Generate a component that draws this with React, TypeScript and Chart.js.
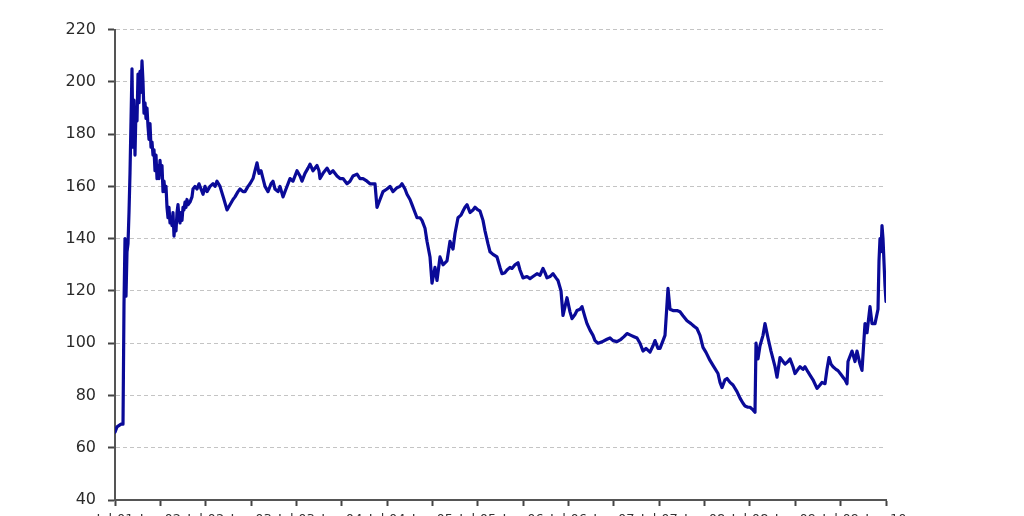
import React, { useEffect, useRef } from "react";
import { Chart, registerables } from "chart.js";

Chart.register(...registerables);

// Trading-day index (0 = first day on the axis) and closing price
const dayIndex = [
  0, 2, 6, 8, 9, 10, 11, 12, 13, 14, 15, 16, 17, 18, 19, 20, 21, 22, 23, 24,
  25, 26, 27, 28, 29, 30, 31, 32, 33, 34, 35, 36, 37, 38, 39, 40, 41, 42, 43, 44,
  45, 46, 47, 48, 49, 50, 51, 52, 53, 54, 55, 56, 57, 58, 59, 60, 61, 62, 63, 64,
  65, 66, 67, 68, 69, 70, 71, 72, 73, 75, 77, 78, 80, 82, 84, 86, 88, 90, 92, 95,
  98, 100, 102, 105, 109, 112, 115, 118, 120, 123, 125, 128, 130, 133, 135, 138, 140, 142, 144, 146,
  148, 150, 153, 156, 158, 160, 163, 165, 168, 171, 175, 178, 182, 185, 187, 190, 193, 195, 198, 202,
  204, 205, 208, 212, 215, 218, 222, 225, 228, 232, 235, 238, 242, 245, 248, 252, 255, 258, 260, 262,
  265, 268, 272, 275, 278, 282, 285, 287, 290, 292, 295, 297, 300, 302, 305, 307, 310, 312, 315, 317,
  320, 322, 325, 328, 332, 335, 338, 340, 343, 346, 348, 350, 352, 355, 358, 360, 363, 365, 368, 370,
  373, 375, 378, 382, 385, 387, 390, 392, 395, 397, 400, 403, 405, 408, 412, 415, 418, 422, 425, 428,
  430, 432, 435, 438, 441, 443, 446, 448, 450, 452, 455, 457, 460, 462, 465, 467, 470, 472, 475, 478,
  480, 483, 487, 492, 495, 498, 502, 506, 509, 512, 516, 519, 522, 525, 528, 531, 535, 538, 540, 543,
  545, 548, 550, 553, 555, 558, 562, 565, 568, 572, 576, 579, 582, 585, 588, 591, 595, 598, 603, 605,
  607, 610, 612, 615, 618, 622, 625, 628, 630, 633, 635, 638, 640, 641, 643, 645, 648, 650, 653, 656,
  658, 660, 662, 665, 668, 670, 673, 675, 678, 680, 683, 685, 688, 690, 693, 695, 698, 702, 705, 707,
  710, 712, 714, 716, 718, 721, 723, 726, 728, 730, 732, 733, 735, 737, 740, 742, 745, 747, 750, 752,
  755, 757, 760, 763, 764, 765, 766, 767, 768, 770, 771,
];

const price = [
  66, 68, 69, 69, 115, 140, 118, 135, 138, 150, 165, 185, 205, 175, 193, 172, 190, 185, 203, 192,
  204, 196, 208, 200, 188, 192, 186, 190, 183, 178, 184, 175, 177, 172, 174, 166, 172, 163, 168, 163,
  170, 165, 168, 158, 162, 158, 160, 152, 148, 152, 146, 148, 145, 150, 141, 146, 143, 150, 153, 148,
  146, 150, 147, 152, 151, 154, 152, 155, 153, 154, 156, 159, 160, 159, 161, 159, 157, 160, 158, 160,
  161, 160, 162, 160, 155, 151, 153, 155, 156, 158, 159, 158, 158, 160, 161, 163, 166, 169, 165, 166,
  163, 160, 158, 161, 162, 159, 158, 160, 156, 159, 163, 162, 166, 164, 162, 165, 167, 168.5, 166, 168,
  166, 163, 165, 167, 165, 166, 164, 163, 163, 161, 162, 164, 164.7, 163, 163, 162, 161, 161, 161, 152,
  155, 158, 159, 160, 158, 159.5, 160, 161, 159, 157, 155, 153, 150, 148, 148, 147, 144, 139, 133, 123,
  129, 124, 133, 130, 131.5, 139, 136, 142, 148, 149, 150.6, 152, 153, 150, 151, 152, 151, 150.6, 147, 143,
  138, 135, 134, 133, 129, 126.6, 127, 128, 129, 128.6, 130, 130.8, 128, 125, 125.5, 124.7, 125.5, 126.6, 126, 128.6,
  127, 125, 125.5, 126.6, 125, 124, 120, 110.6, 114, 117.4, 112, 109.4, 111, 112.5, 113, 114, 110, 107.5, 105, 103,
  101, 100, 100.5, 101.5, 102, 101, 100.6, 101.5, 102.5, 103.7, 103, 102.5, 102, 100, 97, 98, 96.6, 99, 101, 98,
  98, 101, 103, 121, 113, 112.5, 112.5, 112, 110.5, 108.6, 107.5, 106.5, 105.6, 103, 98.4, 96.5, 93.4, 91.5, 88.4, 85,
  83, 86, 86.5, 85, 84, 81.5, 79, 77, 76, 75.5, 75.5, 74.5, 73.6, 100, 94, 99, 103, 107.5, 102, 97,
  94, 91, 87, 94.5, 93, 92, 93, 94, 91, 88.4, 90, 91, 90, 91, 89, 87.8, 86, 82.7, 84, 85,
  84.5, 90, 94.5, 92, 91, 90, 89.5, 88, 87, 86, 84.5, 93, 95, 97, 93, 97, 92, 89.6, 107.5, 104,
  114, 107.5, 107.5, 113, 131.5, 140, 135, 145, 140, 122, 116,
];

const xTickLabels = [
  "Jul-01", "Jan-02", "Jul-02", "Jan-03", "Jul-03", "Jan-04", "Jul-04", "Jan-05", "Jul-05",
  "Jan-06", "Jul-06", "Jan-07", "Jul-07", "Jan-08", "Jul-08", "Jan-09", "Jul-09", "Jan-10",
];

const yMin = 40;
const yMax = 220;
const yStep = 20;
const xMax = 771;

export default function App() {
  const ref = useRef<HTMLCanvasElement>(null);

  useEffect(() => {
    if (!ref.current) return;
    const points = dayIndex.map((x, i) => ({ x, y: price[i] }));
    const chart = new Chart(ref.current, {
      type: "line",
      data: {
        datasets: [
          {
            data: points,
            borderColor: "#0a0a98",
            borderWidth: 3.2,
            borderJoinStyle: "round",
            borderCapStyle: "round",
            pointRadius: 0,
            tension: 0,
            fill: false,
          },
        ],
      },
      options: {
        animation: false,
        responsive: false,
        maintainAspectRatio: false,
        layout: { padding: { top: 20, right: 130, left: 0, bottom: 0 } },
        plugins: { legend: { display: false }, tooltip: { enabled: false } },
        scales: {
          x: {
            type: "linear",
            min: 0,
            max: xMax,
            afterBuildTicks: (s: any) => {
              s.ticks = xTickLabels.map((_, i) => ({ value: (i * xMax) / (xTickLabels.length - 1) }));
            },
            afterFit: (s: any) => {
              s.height = 40;
            },
            ticks: {
              autoSkip: false,
              maxRotation: 0,
              padding: 6,
              color: "#333",
              font: { family: "DejaVu Sans", size: 13 },
              callback: (_v: any, i: number) => xTickLabels[i],
            },
            grid: {
              drawOnChartArea: false,
              drawTicks: true,
              tickLength: 6,
              tickColor: "#444",
              tickWidth: 2,
              tickBorderDash: [],
            },
            border: { color: "#555", width: 2 },
          },
          y: {
            min: yMin,
            max: yMax,
            afterFit: (s: any) => {
              s.width = 107;
            },
            ticks: {
              stepSize: yStep,
              padding: 12,
              color: "#2a2a2a",
              font: { family: "DejaVu Sans", size: 16 },
            },
            grid: {
              color: "#c4c4c4",
              lineWidth: 1,
              drawTicks: true,
              tickLength: 7,
              tickColor: "#444",
              tickWidth: 2,
              tickBorderDash: [],
            },
            border: { color: "#555", width: 2, dash: [4, 3] },
          },
        },
      },
    });
    return () => chart.destroy();
  }, []);

  return (
    <div style={{ height: 508, overflow: "hidden" }}>
      <canvas ref={ref} width={1008} height={532} style={{ display: "block" }} />
    </div>
  );
}
